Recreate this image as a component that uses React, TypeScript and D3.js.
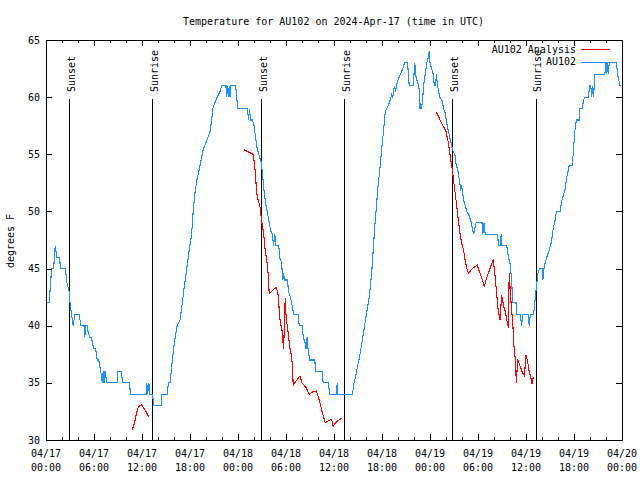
import React from "react";
import * as d3 from "d3";

const chartTitle = "Temperature for AU102 on 2024-Apr-17 (time in UTC)";
const yAxisLabel = "degrees F";
const seriesNames = ["AU102 Analysis", "AU102"];
const seriesColors = ["#ff0000", "#1e90ff"];

const xTickHours = [0, 6, 12, 18, 24, 30, 36, 42, 48, 54, 60, 66, 72];
const xTickDates = ["04/17", "04/17", "04/17", "04/17", "04/18", "04/18", "04/18", "04/18", "04/19", "04/19", "04/19", "04/19", "04/20"];
const xTickTimes = ["00:00", "06:00", "12:00", "18:00", "00:00", "06:00", "12:00", "18:00", "00:00", "06:00", "12:00", "18:00", "00:00"];
const yTicks = [30, 35, 40, 45, 50, 55, 60, 65];

const eventHours = [2.92, 13.3, 26.9, 37.3, 50.8, 61.2];
const eventLabels = ["Sunset", "Sunrise", "Sunset", "Sunrise", "Sunset", "Sunrise"];

// Observed AU102 (hours since 04/17 00:00 UTC, degrees F)
const obsHours = [
  0, 0.42, 0.5, 0.6, 0.7, 0.96, 1.05, 1.15, 1.25, 1.32, 1.7, 1.8, 2.45, 2.55, 2.7, 2.9, 3.0, 3.1, 3.2, 3.3, 3.4, 3.5, 3.6, 4.15, 4.25, 4.35, 4.75, 4.85, 4.95, 5.15, 5.25, 5.45, 5.7, 5.8, 5.95, 6.2, 6.3, 6.4, 6.6, 6.7, 6.85, 6.95, 7.05, 7.15, 7.25, 7.35, 7.45, 7.55, 8.9, 9.0, 9.45, 9.55, 10.45, 10.55, 12.5, 12.6, 12.7, 12.85, 13.0, 13.3, 13.4, 13.5, 14.4, 14.5, 15.15, 15.3, 15.5, 15.65, 15.8, 15.95, 16.15, 16.4, 16.75, 17.0, 17.3, 17.6, 17.9, 18.2, 18.4, 18.6, 18.85, 19.25, 19.65, 20.1, 20.5, 20.7, 20.85, 21.1, 21.4, 21.75, 21.95, 22.5, 22.55, 22.65, 22.8, 22.9, 23.0, 23.1, 23.7, 23.85, 23.95, 25.2, 25.3, 25.45, 25.55, 25.8, 26.0, 26.2, 26.4, 26.6, 26.9, 27.1, 27.3, 27.5, 27.7, 27.9, 28.1, 28.3, 28.45, 28.6, 28.75, 29.1, 29.2, 29.45, 29.6, 29.7, 29.8, 30.2, 30.3, 30.55, 30.7, 30.85, 30.95, 31.5, 31.65, 32.05, 32.15, 32.4, 32.5, 32.65, 32.75, 32.85, 32.95, 33.6, 33.7, 34.5, 34.65, 35.3, 35.45, 36.3, 36.4, 36.5, 38.3, 38.5, 38.7, 38.9, 39.2, 39.6, 40.0, 40.4, 40.7, 40.9, 41.1, 41.3, 41.5, 41.75, 41.95, 42.2, 42.4, 42.6, 42.8, 43.0, 43.2, 43.35, 43.45, 43.55, 43.7, 43.8, 44.0, 44.3, 44.6, 44.8, 45.2, 45.3, 45.4, 45.9, 46.0, 46.1, 46.2, 46.35, 46.6, 46.7, 46.75, 46.85, 46.95, 47.1, 47.2, 47.4, 47.6, 47.8, 47.9, 48.0, 48.2, 48.4, 48.55, 48.7, 48.8, 48.95, 49.2, 49.5, 49.7, 49.9, 50.1, 50.3, 50.6, 50.8, 51.1, 51.25, 51.5, 51.7, 51.85, 51.9, 52.0, 52.2, 52.6, 52.9, 53.1, 53.3, 53.45, 53.6, 53.75, 54.5, 54.6, 54.75, 54.9, 56.45, 56.55, 56.8, 56.9, 57.0, 57.6, 57.8, 58.0, 58.2, 58.35, 58.75, 58.85, 59.3, 59.45, 59.6, 60.3, 60.4, 60.55, 60.95, 61.1, 61.3, 61.5, 61.7, 62.0, 62.1, 62.25, 62.4, 62.6, 62.9, 63.2, 63.4, 63.6, 63.8, 64.25, 64.5, 64.9, 65.1, 65.4, 65.75, 65.9, 66.1, 66.3, 66.65, 66.75, 67.0, 67.3, 67.8, 67.95, 68.1, 68.2, 68.35, 68.45, 68.6, 69.85, 70.0, 70.1, 70.2, 70.3, 70.4, 71.3, 71.45, 71.6, 71.75
];
const obsTemps = [
  42, 42, 43, 44, 45, 45, 46, 47, 46.5, 46, 46, 45, 45, 44, 43.5, 43, 42, 41.5, 41, 40.5, 40, 40.5, 41, 41, 40.5, 40, 40, 39, 40, 40, 39.5, 39, 39, 38.5, 38, 38, 37.5, 37, 37, 36.5, 36, 35.5, 35, 36, 35, 36, 36, 35, 35, 36, 36, 35, 35, 34, 34, 35, 34, 35, 34, 34, 33.5, 33, 33, 34, 34, 35, 35, 36, 37, 38, 39, 40, 40.5, 41.8, 43.5, 45, 46.6, 48, 50, 51.5, 52.7, 54, 55.4, 56.2, 57, 58, 59, 59.5, 60, 60.5, 61, 61, 60, 61, 60, 61, 60, 61, 61, 60, 59, 59, 58, 59, 58, 58, 57.5, 56.5, 55.5, 55, 54.3, 53, 51.5, 50.5, 49.8, 49, 48.3, 48, 47, 48, 47, 47, 46, 45.5, 44, 44.6, 44, 44, 43, 42.5, 42, 41.5, 41, 41, 40, 40, 39, 38.5, 38, 39, 38, 37.5, 37, 37, 36, 36, 35, 35, 34, 34, 35, 34, 34, 35, 35.5, 36.3, 37.3, 39, 40.8, 42.5, 44.5, 46.6, 48.7, 50.4, 52.2, 53.8, 55.4, 57.1, 58.7, 59, 59.3, 59.7, 60.2, 60, 60.5, 61, 60.5, 61, 61.5, 62, 62.5, 63, 63, 62, 61, 61, 62, 63, 62, 61.5, 61, 60, 59, 59.5, 59, 60, 61, 62, 63, 63.5, 64, 63, 62.5, 62, 61, 61, 62, 61, 60, 59.7, 59, 58.6, 57.7, 57, 56.1, 55.4, 55, 54.2, 53.5, 52.6, 51.8, 52.3, 52, 51, 50, 49.6, 49.2, 48.5, 48, 48.5, 49, 49, 48, 49, 48, 48, 47, 47, 48, 47, 47, 46, 45.5, 44, 42, 42, 41, 41, 40, 41, 41, 40, 41, 41, 42, 43.4, 44.6, 45, 45, 44, 45, 45.5, 46, 46.6, 47.4, 48.5, 49.1, 50, 50, 51, 52, 53, 54, 54, 55, 57, 58, 58, 59, 59, 60, 60, 61, 61, 60, 61, 60, 62, 62, 63, 62, 63, 62, 63, 63, 62, 61.5, 61
];

// AU102 Analysis (null marks a gap between runs)
const anaHours = [
  10.8, 11.1, 11.3, 11.5, 11.7, 11.95, 12.2, 12.5, 12.7, 12.9,
  18,
  24.75, 25.0, 25.3, 25.6, 25.9, 26.1, 26.25, 26.4, 26.75, 26.96, 27.2, 27.4, 27.6, 27.8, 27.9, 28.6, 28.8, 29.0, 29.25, 29.5, 29.7, 29.8, 29.9, 30.0, 30.15, 30.3, 30.5, 30.7, 30.8, 30.9, 31.3, 31.75, 32.0, 32.5, 32.9, 33.3, 33.8, 34.2, 34.5, 34.9, 35.3, 35.7, 35.9, 36.3, 36.96,
  42,
  48.75, 49.0, 49.25, 49.7, 50.0, 50.3, 50.6, 50.8, 51.0, 51.25, 51.5, 51.75, 51.96, 52.2, 52.4, 52.6, 52.8, 53.3, 53.9, 54.25, 54.6, 54.8, 55.0, 55.3, 55.6, 55.9, 56.1, 56.3, 56.5, 56.75, 56.96, 57.2, 57.4, 57.6, 57.8, 57.9, 58.0, 58.1, 58.25, 58.4, 58.5, 58.65, 58.8, 58.96, 59.2, 59.5, 59.8, 60.0, 60.2, 60.4, 60.6, 60.75, 60.9
];
const anaTemps: (number | null)[] = [
  30.9, 31.6, 32.3, 32.8, 33, 33.1, 32.8, 32.5, 32.2, 32.0,
  null,
  55.4, 55.3, 55.2, 55.1, 55, 53.9, 52.5, 51.3, 50.4, 49.1, 48.1, 46.6, 45.7, 44.3, 42.8, 43.3, 43.3, 42.8, 40.5, 39.6, 38.0, 40, 42.4, 41, 40, 39.2, 38, 37.3, 36.5, 34.8, 35.2, 35.6, 35, 34.6, 34, 34.2, 34.3, 33.4, 32.5, 31.5, 31.7, 31.8, 31.2, 31.6, 31.9,
  null,
  58.7, 58.4, 58, 57.4, 57, 56, 54.5, 53.6, 52.4, 51, 49.5, 48.1, 47.2, 46.6, 45.7, 45, 44.6, 45, 45.3, 44.6, 43.9, 43.4, 44.0, 44.6, 45.2, 45.8, 44.6, 43.1, 41.5, 40.5, 42.7, 41.7, 41.3, 40.5, 39.8, 44.6, 43.4, 42.3, 41, 39.6, 38.2, 37.1, 35, 37.1, 36.6, 36, 35.6, 37.4, 36.9, 36, 35.5, 34.9, 35.5
];

const FONT = "'DejaVu Sans Mono', 'Liberation Mono', monospace";

export default function App() {
  const W = 640, H = 480;
  const left = 46, right = 622, top = 40, bottom = 440;
  const x = d3.scaleLinear().domain([0, 72]).range([left, right]);
  const y = d3.scaleLinear().domain([30, 65]).range([bottom, top]);

  const obsData = obsHours.map((h, i) => [h, obsTemps[i]] as [number, number | null]);
  const anaData = anaHours.map((h, i) => [h, anaTemps[i]] as [number, number | null]);

  const line = d3
    .line<[number, number | null]>()
    .defined((d) => d[1] !== null)
    .x((d) => x(d[0]))
    .y((d) => y(d[1] as number));

  const minorTicks = d3.range(0, 73, 2);
  const px = (v: number) => Math.round(v) + 0.5;

  return (
    <svg
      width={W}
      height={H}
      style={{ position: "absolute", left: 0, top: 0, background: "#fff" }}
      fontFamily={FONT}
      fontSize={10}
    >
      <rect x={0} y={0} width={W} height={H} fill="#fff" />
      <text x={333.5} y={24.5} textAnchor="middle" fill="#000">
        {chartTitle}
      </text>

      {/* event lines */}
      {eventHours.map((h, i) => (
        <g key={"ev" + i}>
          <line x1={px(x(h))} x2={px(x(h))} y1={99} y2={bottom} stroke="#000" strokeWidth={1} shapeRendering="crispEdges" />
          <text transform={`translate(${x(h) + 5.5},92) rotate(-90)`} textAnchor="start" fill="#000">
            {eventLabels[i]}
          </text>
        </g>
      ))}

      {/* data */}
      <path d={line(anaData) || ""} fill="none" stroke={seriesColors[0]} strokeWidth={1.1} shapeRendering="crispEdges" />
      <path d={line(obsData) || ""} fill="none" stroke={seriesColors[1]} strokeWidth={1.1} shapeRendering="crispEdges" />

      {/* frame */}
      <rect x={left + 0.5} y={top + 0.5} width={right - left} height={bottom - top} fill="none" stroke="#000" strokeWidth={1} shapeRendering="crispEdges" />

      {/* x ticks */}
      {minorTicks.map((h) => {
        const major = h % 6 === 0;
        const len = major ? 6 : 3;
        const xx = px(x(h));
        return (
          <g key={"xt" + h} stroke="#000" shapeRendering="crispEdges">
            <line x1={xx} x2={xx} y1={bottom} y2={bottom - len} />
            <line x1={xx} x2={xx} y1={top} y2={top + len} />
          </g>
        );
      })}
      {xTickHours.map((h, i) => (
        <g key={"xl" + h}>
          <text x={x(h)} y={456.5} textAnchor="middle" fill="#000">
            {xTickDates[i]}
          </text>
          <text x={x(h)} y={470.5} textAnchor="middle" fill="#000">
            {xTickTimes[i]}
          </text>
        </g>
      ))}

      {/* y ticks */}
      {yTicks.map((v) => {
        const yy = px(y(v));
        return (
          <g key={"yt" + v}>
            <line x1={left} x2={left + 6} y1={yy} y2={yy} stroke="#000" shapeRendering="crispEdges" />
            <line x1={right} x2={right - 6} y1={yy} y2={yy} stroke="#000" shapeRendering="crispEdges" />
            <text x={40} y={y(v) + 3.5} textAnchor="end" fill="#000">
              {v}
            </text>
          </g>
        );
      })}
      <text transform={`translate(14,241) rotate(-90)`} textAnchor="middle" fill="#000">
        {yAxisLabel}
      </text>

      {/* legend */}
      {seriesNames.map((name, i) => (
        <g key={"lg" + i}>
          <text x={576} y={52.8 + i * 12.5} textAnchor="end" fill="#000">
            {name}
          </text>
          <line x1={581} x2={610} y1={49.5 + i * 12.5} y2={49.5 + i * 12.5} stroke={seriesColors[i]} strokeWidth={1} shapeRendering="crispEdges" />
        </g>
      ))}
    </svg>
  );
}
